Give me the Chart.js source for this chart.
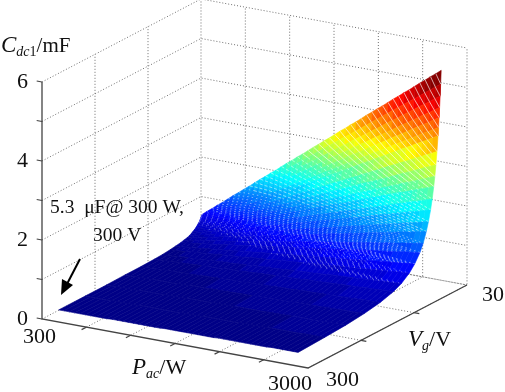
<!DOCTYPE html>
<html>
<head>
<meta charset="utf-8">
<style>
  html, body { margin: 0; padding: 0; background: #fff; }
  canvas { display: block; }
</style>
<script src="https://cdn.jsdelivr.net/npm/chart.js"></script>
</head>
<body>
<canvas id="surface" width="505" height="392"></canvas>
<script>
// Pac in W, one entry per table column
const pacValues = [300,360,420,480,540,600,660,720,780,840,900,960,1020,1080,1140,1200,1260,1320,1380,1440,1500,1560,1620,1680,1740,1800,1860,1920,1980,2040,2100,2160,2220,2280,2340,2400,2460,2520,2580,2640,2700,2760,2820,2880,2940,3000];
// Vg in V, one entry per table row, back of the surface first
const vgValues = [30,31,32,33,34,35,36,38,40,42,44,47,50,54,58,64,70,80,90,105,120,145,175,210,250,300];
// Cdc1, in hundredths of a mF
const cdc1Rows = [
[53,64,74,85,95,106,117,127,138,148,159,170,180,191,201,212,223,233,244,254,265,276,286,297,307,318,329,339,350,360,371,382,392,403,413,424,435,445,456,466,477,488,498,509,519,530],
[50,60,69,79,89,99,109,119,129,139,149,159,169,179,188,198,208,218,228,238,248,258,268,278,288,298,308,317,327,337,347,357,367,377,387,397,407,417,427,436,446,456,466,476,486,496],
[47,56,65,75,84,93,103,112,121,130,140,149,158,168,177,186,196,205,214,224,233,242,252,261,270,280,289,298,308,317,326,335,345,354,363,373,382,391,401,410,419,429,438,447,457,466],
[44,53,61,70,79,88,96,105,114,123,131,140,149,158,167,175,184,193,202,210,219,228,237,245,254,263,272,280,289,298,307,315,324,333,342,350,359,368,377,385,394,403,412,420,429,438],
[41,50,58,66,74,83,91,99,107,116,124,132,140,149,157,165,173,182,190,198,207,215,223,231,240,248,256,264,273,281,289,297,306,314,322,330,339,347,355,363,372,380,388,396,405,413],
[39,47,54,62,70,78,86,93,101,109,117,124,132,140,148,156,163,171,179,187,195,202,210,218,226,233,241,249,257,265,272,280,288,296,303,311,319,327,335,342,350,358,366,373,381,389],
[37,44,52,59,66,74,81,88,96,103,110,118,125,132,140,147,155,162,169,177,184,191,199,206,213,221,228,236,243,250,258,265,272,280,287,294,302,309,317,324,331,339,346,353,361,368],
[33,40,46,53,59,66,73,79,86,92,99,106,112,119,125,132,139,145,152,158,165,172,178,185,191,198,205,211,218,224,231,238,244,251,257,264,271,277,284,290,297,304,310,317,323,330],
[30,36,42,48,54,60,66,72,78,83,89,95,101,107,113,119,125,131,137,143,149,155,161,167,173,179,185,191,197,203,209,215,221,226,232,238,244,250,256,262,268,274,280,286,292,298],
[27,32,38,43,49,54,59,65,70,76,81,86,92,97,103,108,113,119,124,130,135,140,146,151,157,162,167,173,178,184,189,194,200,205,211,216,221,227,232,238,243,248,254,259,265,270],
[25,30,34,39,44,49,54,59,64,69,74,79,84,89,93,98,103,108,113,118,123,128,133,138,143,148,153,157,162,167,172,177,182,187,192,197,202,207,212,216,221,226,231,236,241,246],
[22,26,30,35,39,43,48,52,56,60,65,69,73,78,82,86,91,95,99,104,108,112,117,121,125,130,134,138,143,147,151,156,160,164,168,173,177,181,186,190,194,199,203,207,212,216],
[19,23,27,31,34,38,42,46,50,53,57,61,65,69,73,76,80,84,88,92,96,99,103,107,111,115,118,122,126,130,134,137,141,145,149,153,157,160,164,168,172,176,179,183,187,191],
[16,20,23,26,30,33,36,39,43,46,49,52,56,59,62,66,69,72,75,79,82,85,89,92,95,98,102,105,108,112,115,118,121,125,128,131,134,138,141,144,148,151,154,157,161,164],
[14,17,20,23,26,28,31,34,37,40,43,45,48,51,54,57,60,62,65,68,71,74,77,79,82,85,88,91,94,96,99,102,105,108,111,114,116,119,122,125,128,131,133,136,139,142],
[12,14,16,19,21,23,26,28,30,32,35,37,39,42,44,46,49,51,53,56,58,60,63,65,67,70,72,74,77,79,81,83,86,88,90,93,95,97,100,102,104,107,109,111,114,116],
[10,12,14,16,17,19,21,23,25,27,29,31,33,35,37,39,41,43,45,47,49,50,52,54,56,58,60,62,64,66,68,70,72,74,76,78,80,82,83,85,87,89,91,93,95,97],
[8,9,11,12,14,15,17,18,20,21,23,24,26,27,29,30,32,33,35,36,38,39,41,42,44,45,47,48,50,51,53,54,56,57,59,60,62,63,65,66,68,69,71,72,74,75],
[6,7,8,9,11,12,13,14,15,17,18,19,20,21,22,24,25,26,27,28,30,31,32,33,34,35,37,38,39,40,41,43,44,45,46,47,48,50,51,52,53,54,56,57,58,59],
[4,5,6,7,8,9,9,10,11,12,13,14,15,15,16,17,18,19,20,21,22,22,23,24,25,26,27,28,28,29,30,31,32,33,34,34,35,36,37,38,39,40,41,41,42,43],
[3,4,5,5,6,7,7,8,9,9,10,11,11,12,13,13,14,15,15,16,17,17,18,19,19,20,21,21,22,23,23,24,24,25,26,26,27,28,28,29,30,30,31,32,32,33],
[2,3,3,4,4,5,5,6,6,6,7,7,8,8,9,9,10,10,11,11,12,12,12,13,13,14,14,15,15,16,16,17,17,18,18,18,19,19,20,20,21,21,22,22,23,23],
[2,2,2,3,3,3,4,4,4,4,5,5,5,6,6,6,7,7,7,8,8,8,9,9,9,10,10,10,11,11,11,11,12,12,12,13,13,13,14,14,14,15,15,15,16,16],
[1,1,2,2,2,2,2,3,3,3,3,4,4,4,4,4,5,5,5,5,6,6,6,6,6,7,7,7,7,7,8,8,8,8,9,9,9,9,9,10,10,10,10,10,11,11],
[1,1,1,1,1,2,2,2,2,2,2,3,3,3,3,3,3,3,4,4,4,4,4,5,5,5,5,5,5,6,6,6,6,6,6,7,7,7,7,7,7,8,8,8,8,8],
[1,1,1,1,1,1,1,1,1,1,2,2,2,2,2,2,2,2,2,2,3,3,3,3,3,3,3,3,3,3,4,4,4,4,4,4,4,4,4,4,5,5,5,5,5,5]
];
// box grid
const pacGrid = [300,800,1300,1800,2300,2800,3300];
const vgGrid = [331.5,231.5,131.5,31.5];
const cGrid = [0,1,2,3,4,5,6];
const cTickLabels = ['0','2','4','6'];

// fake 3D view: data goes to a flat x/y plane, the chart scales do the rest
function project(pac, vg, c) {
  const a = (pac - 300) / 3000;
  const b = (331.5 - vg) / 300;
  return { x: 42 + 266 * a + 159 * b, y: 319 + 49 * a - 83 * b - 39.5 * c };
}

// matlab jet, 64 levels, tops out at 5 mF
function jet(c) {
  const level = Math.min(63, Math.floor(c / 5 * 64));
  const t = (level + 0.5) / 64;
  const ch = (d) => Math.round(255 * Math.max(0, Math.min(1, 1.5 - Math.abs(4 * t - d))));
  return `rgb(${ch(3)},${ch(2)},${ch(1)})`;
}

let painted = []; // in paint order, reversed at the end

function addLine(points, color, width, dash) {
  painted.push({
    data: points, showLine: true, fill: false, pointRadius: 0,
    borderColor: color, borderWidth: width, borderDash: dash || [], tension: 0
  });
}

// walls and floor
const pMin = pacGrid[0], pMax = pacGrid[6], vNear = vgGrid[0], vFar = vgGrid[3];
const dotted = '#6e6e6e';
cGrid.forEach((c) => {
  addLine([project(pMin, vNear, c), project(pMin, vFar, c), project(pMax, vFar, c)], dotted, 1, [1, 2]);
});
vgGrid.slice(1).forEach((v) => {
  addLine([project(pMax, v, 0), project(pMin, v, 0), project(pMin, v, 6)], dotted, 1, [1, 2]);
});
pacGrid.slice(1).forEach((p) => {
  addLine([project(p, vNear, 0), project(p, vFar, 0), project(p, vFar, 6)], dotted, 1, [1, 2]);
});

// surface cells, back rows first
for (let i = 0; i < vgValues.length - 1; i++) {
  for (let j = 0; j < pacValues.length - 1; j++) {
    const c = [cdc1Rows[i][j], cdc1Rows[i][j + 1], cdc1Rows[i + 1][j + 1], cdc1Rows[i + 1][j]].map((v) => v / 100);
    const color = jet((c[0] + c[1] + c[2] + c[3]) / 4);
    painted.push({
      data: [
        project(pacValues[j], vgValues[i], c[0]),
        project(pacValues[j + 1], vgValues[i], c[1]),
        project(pacValues[j + 1], vgValues[i + 1], c[2]),
        project(pacValues[j], vgValues[i + 1], c[3]),
        project(pacValues[j], vgValues[i], c[0])
      ],
      showLine: true, fill: 'shape', pointRadius: 0, tension: 0,
      backgroundColor: color, borderColor: color, borderWidth: 0.6
    });
  }
}

// white seams of the mesh run diagonally over the cells, they break up as the surface flattens
function seamColor(c) {
  if (c >= 2.5) return 'rgba(255,255,255,0.72)';
  if (c >= 1.4) return 'rgba(255,255,255,0.62)';
  if (c >= 0.7) return 'rgba(255,255,255,0.55)';
  if (c >= 0.35) return 'rgba(255,255,255,0.45)';
  return 'rgba(255,255,255,0)';
}
function seamDash(c) {
  if (c >= 2.5) return [];
  if (c >= 1.4) return [3, 2];
  if (c >= 0.7) return [1.5, 3];
  return [1, 5];
}
for (let start = -80; start < 45; start++) {
  const points = [];
  vgValues.forEach((v, i) => {
    const j = start + (v - 30);
    if (v <= 120 && j >= 0 && j < pacValues.length) {
      const c = cdc1Rows[i][j] / 100;
      points.push({ ...project(pacValues[j], v, c), c: c });
    }
  });
  if (points.length > 1) {
    painted.push({
      data: points, showLine: true, fill: false, pointRadius: 0, tension: 0,
      borderColor: 'rgba(255,255,255,0.7)', borderWidth: 0.9,
      segment: {
        borderColor: (ctx) => seamColor(points[ctx.p0DataIndex].c),
        borderDash: (ctx) => seamDash(points[ctx.p0DataIndex].c)
      }
    });
  }
}

// solid axes and ticks
const axisColor = '#444';
addLine([project(pMin, vNear, 6), project(pMin, vNear, 0), project(pMax, vNear, 0), project(pMax, vFar, 0)], axisColor, 1.3);
cGrid.forEach((c) => addLine([project(pMin, vNear, c), project(pMin - 60, vNear, c)], axisColor, 1.2));
pacGrid.slice(1, 6).forEach((p) => addLine([project(p, vNear, 0), project(p, vNear + 9, 0)], axisColor, 1.2));
vgGrid.slice(1, 3).forEach((v) => addLine([project(pMax, v, 0), project(pMax + 60, v, 0)], axisColor, 1.2));

const serif = '"Liberation Serif"';

function drawRun(ctx, x, y, parts) {
  parts.forEach(([text, font, dy]) => {
    ctx.font = font;
    ctx.fillText(text, x, y + (dy || 0));
    x += ctx.measureText(text).width;
  });
}

const labelPlugin = {
  id: 'labels',
  afterDraw(chart) {
    const ctx = chart.ctx;
    ctx.save();
    ctx.fillStyle = '#111';
    ctx.textBaseline = 'alphabetic';
    const num = `22px ${serif}`;
    cTickLabels.forEach((t) => {
      const y = project(pMin, vNear, Number(t)).y;
      ctx.font = num;
      ctx.fillText(t, 17, y + 6);
    });
    ctx.font = num;
    ctx.fillText('300', 23, 343);
    ctx.fillText('3000', 268, 390);
    ctx.fillText('300', 326, 386);
    ctx.fillText('30', 482, 301);

    drawRun(ctx, 1, 52, [
      ['C', `italic 23px ${serif}`],
      ['dc', `italic 14px ${serif}`, 4],
      ['1', `14px ${serif}`, 4],
      ['/mF', `21px ${serif}`]
    ]);
    drawRun(ctx, 132, 374, [
      ['P', `italic 23px ${serif}`],
      ['ac', `italic 14px ${serif}`, 4],
      ['/W', `22px ${serif}`]
    ]);
    drawRun(ctx, 408, 346, [
      ['V', `italic 23px ${serif}`],
      ['g', `italic 14px ${serif}`, 4],
      ['/V', `22px ${serif}`]
    ]);

    ctx.font = `19.5px ${serif}`;
    ctx.fillText('5.3  μF@ 300 W,', 50, 213);
    ctx.fillText('300 V', 93, 241);

    // arrow to the lowest corner
    ctx.strokeStyle = '#000';
    ctx.lineWidth = 2;
    ctx.beginPath();
    ctx.moveTo(80, 259);
    ctx.lineTo(67, 284);
    ctx.stroke();
    ctx.fillStyle = '#000';
    ctx.beginPath();
    ctx.moveTo(61, 295);
    ctx.lineTo(62, 279);
    ctx.lineTo(73, 285);
    ctx.closePath();
    ctx.fill();
    ctx.restore();
  }
};

new Chart(document.getElementById('surface'), {
  type: 'scatter',
  data: { datasets: painted.reverse() }, // chart.js paints the first dataset last
  options: {
    responsive: false,
    animation: false,
    events: [],
    layout: { padding: 0 },
    scales: {
      x: { type: 'linear', display: false, min: 0, max: 505 },
      y: { type: 'linear', display: false, min: 0, max: 392, reverse: true }
    },
    plugins: { legend: { display: false }, tooltip: { enabled: false } }
  },
  plugins: [labelPlugin]
});
</script>
</body>
</html>
